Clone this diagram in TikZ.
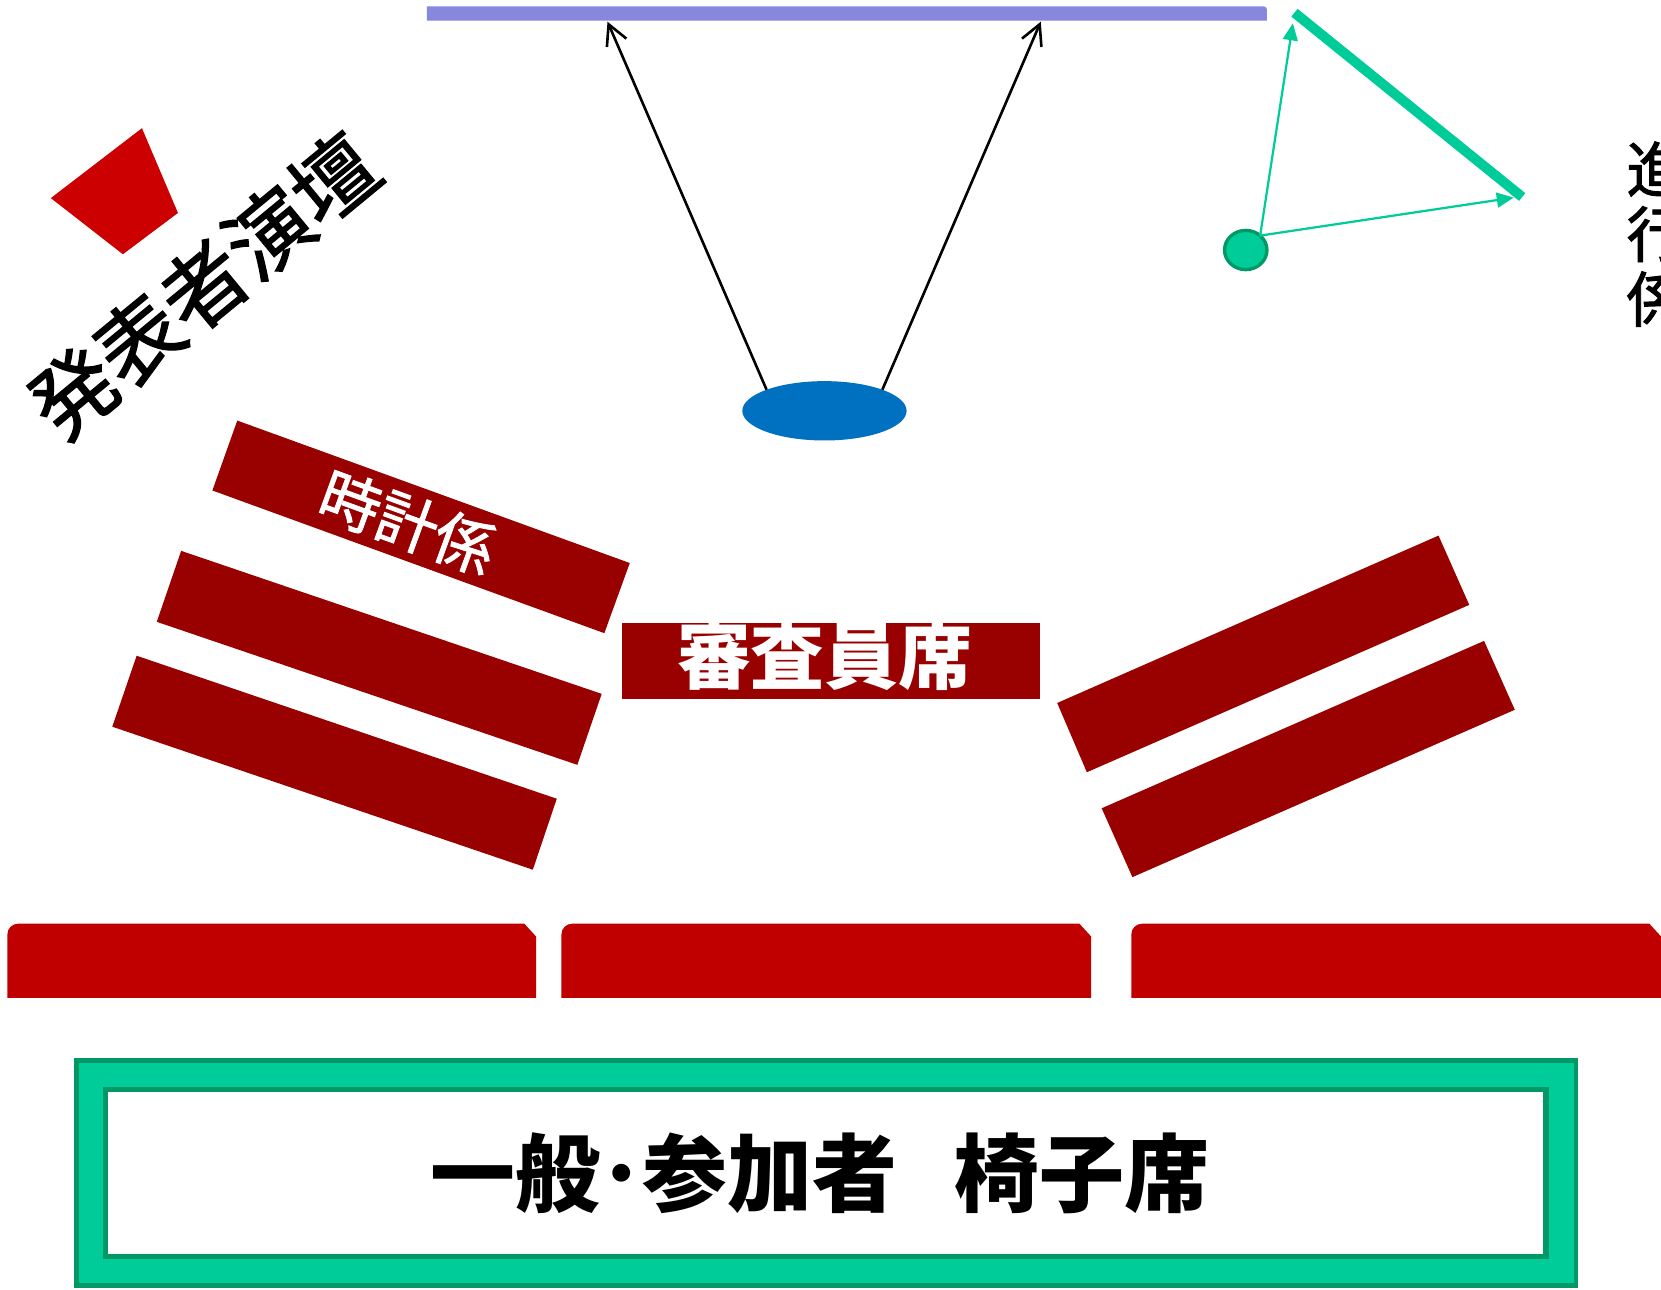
\documentclass[tikz,border=0pt]{standalone}
\usepackage{fontspec}
\newfontfamily\jp{Noto Sans CJK JP}
\newfontfamily\jpm[FakeBold=1.5]{Noto Sans CJK JP}
\usetikzlibrary{arrows.meta,shapes.geometric}
\definecolor{benchdark}{HTML}{990000}
\definecolor{benchred}{HTML}{C00000}
\definecolor{podium}{HTML}{CC0000}
\definecolor{screencol}{HTML}{8787DD}
\definecolor{spkblue}{HTML}{0070C0}
\definecolor{mint}{HTML}{00CC99}
\definecolor{mintdark}{HTML}{009966}
\begin{document}
\begin{tikzpicture}[x=0.01cm,y=-0.01cm,
  blackarrow/.style={draw=black, line width=0.7pt, -{Straight Barb[length=0.19cm,width=0.2cm,line width=0.7pt]}},
  mintarrow/.style={draw=mint, line width=0.6pt, -{Triangle[length=0.16cm,width=0.14cm]}},
  lectern/.style={ellipse, fill=spkblue, minimum width=1.55cm, minimum height=0.56cm, inner sep=0pt, outer sep=0pt},
  staffdot/.style={ellipse, fill=mint, draw=mintdark, line width=0.9pt, minimum width=0.40cm, minimum height=0.37cm, inner sep=0pt, outer sep=0pt},
  tilted/.style={fill=benchdark},
  frontrow/.style={fill=benchred},
  jptext/.style={inner sep=0pt, outer sep=0pt}
]
\useasboundingbox (0,0) rectangle (1568,1217);

% screen
\fill[screencol] (403,19.5) -- (403,6) [rounded corners=0.03cm] -- (1196,6) [sharp corners] -- (1196,19.5) -- cycle;
\coordinate (sL) at (573.5,20.5);
\coordinate (sR) at (982.5,20.5);

% lectern and arrows
\node[lectern] (spk) at (778.3,387.8) {};
\draw[blackarrow] (spk.160) -- (sL);
\draw[blackarrow] (spk.20) -- (sR);

% staff (progress)
\coordinate (gA) at (1222,12);
\coordinate (gB) at (1437,186);
\draw[mint, line width=0.094cm] (gA) -- (gB);
\node[staffdot] (tk) at (1176,236) {};
\coordinate (gT) at (1220.5,22);
\coordinate (gR) at (1429,186.5);
\draw[mintarrow] (tk.45) -- (gT);
\draw[mintarrow] (tk.45) -- (gR);
\node[jptext, font=\jpm\fontsize{16.2pt}{17.4pt}\selectfont, align=center] (prog) at (1564,221) {進\\行\\係};

% podium
\fill[podium] (134,121) -- (168,201) -- (116,240) -- (48,187) -- cycle;
\node[jptext, font=\jpm\fontsize{22.6pt}{23pt}\selectfont, rotate=39.5] (podlabel) at (192,270) {発表者演壇};

% left tilted tables
\fill[tilted] (224,397) -- (594.5,531.5) -- (570.5,597.7) -- (200.5,463) -- cycle;
\fill[tilted] (171,520) -- (568,655) -- (545,722) -- (148,587) -- cycle;
\fill[tilted] (129,619) -- (525.6,754) -- (503,821) -- (106,686) -- cycle;
\node[jptext, text=white, font=\jpm\fontsize{16.3pt}{16.3pt}\selectfont, rotate=-20] (timer) at (385,493) {時計係};

% right tilted tables
\fill[tilted] (998,663.6) -- (1358,505.6) -- (1387,571) -- (1026,729) -- cycle;
\fill[tilted] (1040,763) -- (1401,605) -- (1430,670) -- (1069,828) -- cycle;

% jury
\fill[tilted] (587,588) rectangle (982,660);
\node[jptext, text=white, font=\jp\bfseries\fontsize{19.8pt}{20pt}\selectfont] (jury) at (778.5,619) {審査員席};

% front row tables
\fill[frontrow] (7,942) [rounded corners=0.1cm] -- (7,872) [sharp corners] -- (495,872) -- (506,884) -- (506,942) -- cycle;
\fill[frontrow] (530,942) [rounded corners=0.1cm] -- (530,872) [sharp corners] -- (1019,872) -- (1030,884) -- (1030,942) -- cycle;
\fill[frontrow] (1068,942) [rounded corners=0.1cm] -- (1068,872) [sharp corners] -- (1557,872) -- (1568,884) -- (1568,942) -- cycle;

% audience
\filldraw[fill=mint, draw=mintdark, line width=1.3pt] (72.3,1001.3) rectangle (1487.7,1213.7);
\filldraw[fill=white, draw=mintdark, line width=1.4pt] (99.5,1028.5) rectangle (1459.5,1186.5);
\node[jptext, font=\jp\bfseries\fontsize{22.8pt}{23pt}\selectfont] (general) at (774,1108) {一般･参加者\hspace{0.54cm}椅子席};
\end{tikzpicture}
\end{document}
